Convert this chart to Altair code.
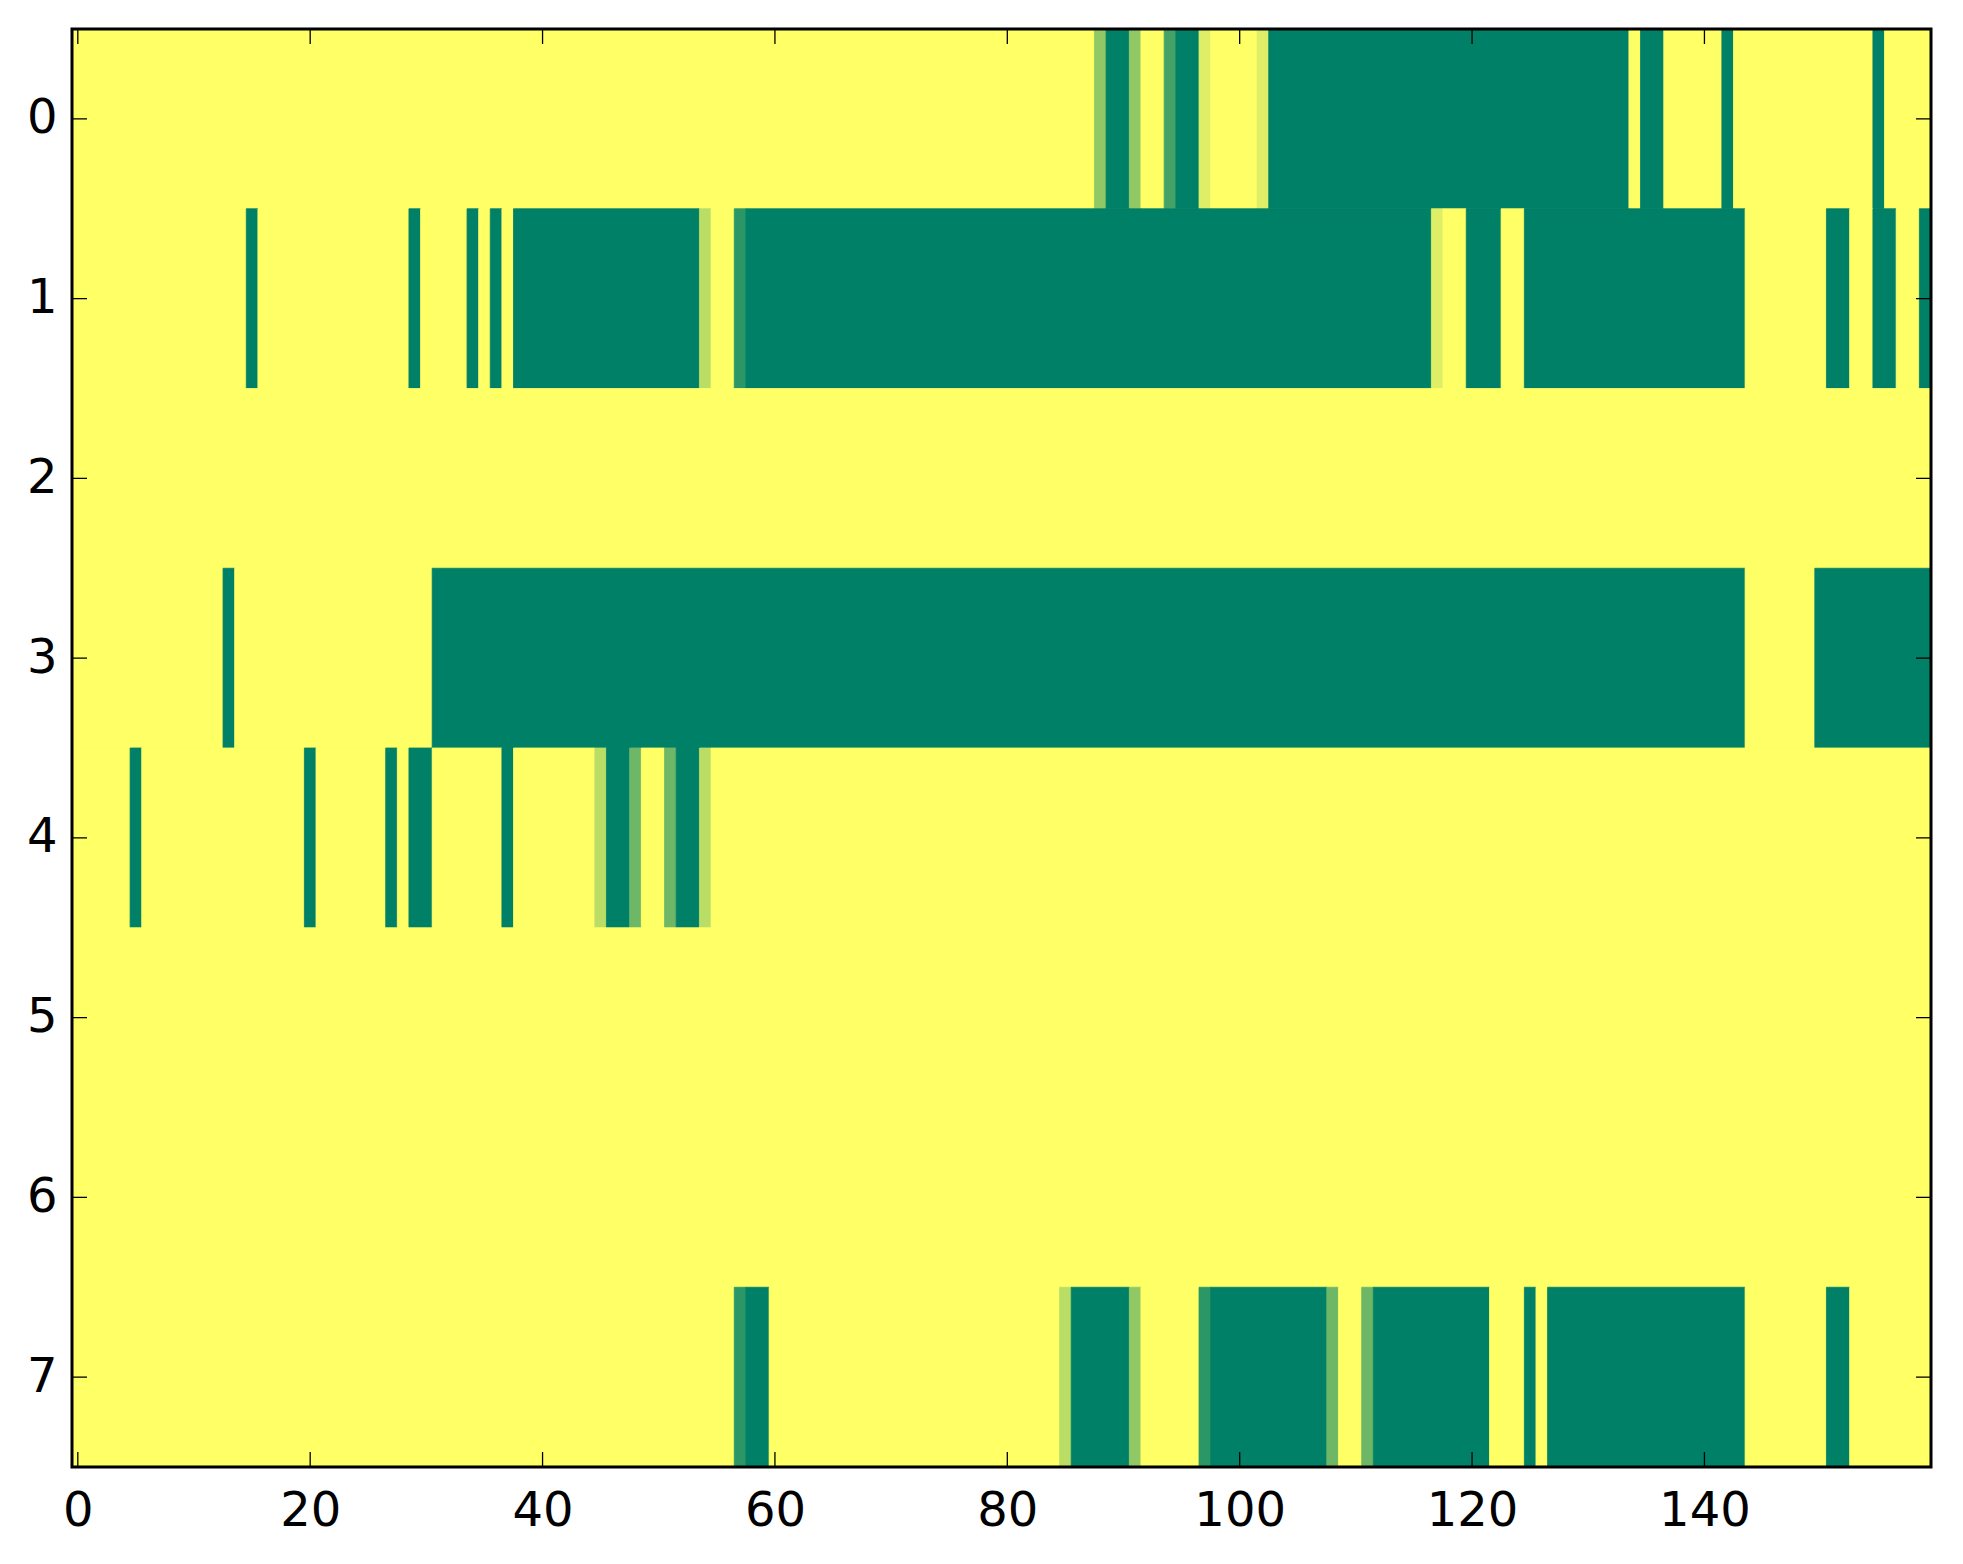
import altair as alt
import pandas as pd

# Each row of the image: runs of (first column, last column, value)
row_0 = [(0, 87, 0), (88, 88, 0.43), (89, 90, 1), (91, 91, 0.43), (92, 93, 0),
         (94, 94, 0.73), (95, 96, 1), (97, 97, 0.13), (98, 101, 0), (102, 102, 0.13),
         (103, 133, 1), (134, 134, 0), (135, 136, 1), (137, 141, 0), (142, 142, 1),
         (143, 154, 0), (155, 155, 1), (156, 159, 0)]
row_1 = [(0, 14, 0), (15, 15, 1), (16, 28, 0), (29, 29, 1), (30, 33, 0), (34, 34, 1),
         (35, 35, 0), (36, 36, 1), (37, 37, 0), (38, 53, 1), (54, 54, 0.27), (55, 56, 0),
         (57, 57, 0.83), (58, 116, 1), (117, 117, 0.13), (118, 119, 0), (120, 122, 1),
         (123, 124, 0), (125, 143, 1), (144, 150, 0), (151, 152, 1), (153, 154, 0),
         (155, 156, 1), (157, 158, 0), (159, 159, 1)]
row_2 = [(0, 159, 0)]
row_3 = [(0, 12, 0), (13, 13, 1), (14, 30, 0), (31, 143, 1), (144, 149, 0), (150, 159, 1)]
row_4 = [(0, 4, 0), (5, 5, 1), (6, 19, 0), (20, 20, 1), (21, 26, 0), (27, 27, 1),
         (28, 28, 0), (29, 30, 1), (31, 36, 0), (37, 37, 1), (38, 44, 0), (45, 45, 0.27),
         (46, 47, 1), (48, 48, 0.57), (49, 50, 0), (51, 51, 0.57), (52, 53, 1),
         (54, 54, 0.27), (55, 159, 0)]
row_5 = [(0, 159, 0)]
row_6 = [(0, 159, 0)]
row_7 = [(0, 56, 0), (57, 57, 0.83), (58, 59, 1), (60, 84, 0), (85, 85, 0.27),
         (86, 90, 1), (91, 91, 0.43), (92, 96, 0), (97, 97, 0.83), (98, 107, 1),
         (108, 108, 0.57), (109, 110, 0), (111, 111, 0.57), (112, 121, 1), (122, 124, 0),
         (125, 125, 1), (126, 126, 0), (127, 143, 1), (144, 150, 0), (151, 152, 1),
         (153, 159, 0)]

rows = [row_0, row_1, row_2, row_3, row_4, row_5, row_6, row_7]
x_ticks = [0, 20, 40, 60, 80, 100, 120, 140]
y_ticks = [0, 1, 2, 3, 4, 5, 6, 7]

records = []
for r, runs in enumerate(rows):
    for a, b, v in runs:
        records.append({"row": r, "start": a, "end": b, "v": v})
df = pd.DataFrame(records)

W, H = 1859, 1438
TL = 15
FONT = "DejaVu Sans"

cscale = alt.Scale(domain=[0, 1], range=["#ffff66", "#008066"], interpolate="rgb")
xscale = alt.Scale(domain=[-0.5, 159.5], nice=False, zero=False)
yscale = alt.Scale(domain=[-0.5, 7.5], nice=False, zero=False, reverse=True)

x_axis = alt.Axis(values=x_ticks, ticks=False, tickSize=0, domain=False, grid=False,
                  title=None, labelFont=FONT, labelFontSize=48, labelColor="black",
                  labelPadding=20, labelFlush=False)
y_axis = alt.Axis(values=y_ticks, ticks=False, tickSize=0, domain=False, grid=False,
                  title=None, labelFont=FONT, labelFontSize=48, labelColor="black",
                  labelPadding=15, labelFlush=False)

heat = alt.Chart(df).transform_calculate(
    x0="datum.start - 0.5", x1="datum.end + 0.5",
    y0="datum.row - 0.5", y1="datum.row + 0.5"
).mark_rect(strokeWidth=0.8).encode(
    x=alt.X("x0:Q", scale=xscale, axis=x_axis),
    x2="x1:Q",
    y=alt.Y("y0:Q", scale=yscale, axis=y_axis),
    y2="y1:Q",
    color=alt.Color("v:Q", scale=cscale, legend=None),
    stroke=alt.Stroke("v:Q", scale=cscale, legend=None),
)

xt = pd.DataFrame({"t": x_ticks})
yt = pd.DataFrame({"t": y_ticks})

tick_style = dict(color="black", strokeWidth=1.3)
bottom = alt.Chart(xt).mark_rule(**tick_style).encode(
    x=alt.X("t:Q", scale=xscale, axis=x_axis), y=alt.value(H), y2=alt.value(H - TL))
top = alt.Chart(xt).mark_rule(**tick_style).encode(
    x=alt.X("t:Q", scale=xscale, axis=x_axis), y=alt.value(0), y2=alt.value(TL))
left = alt.Chart(yt).mark_rule(**tick_style).encode(
    y=alt.Y("t:Q", scale=yscale, axis=y_axis), x=alt.value(0), x2=alt.value(TL))
right = alt.Chart(yt).mark_rule(**tick_style).encode(
    y=alt.Y("t:Q", scale=yscale, axis=y_axis), x=alt.value(W), x2=alt.value(W - TL))

frame = alt.Chart(alt.Data(values=[{}])).mark_rect(
    filled=False, stroke="black", strokeWidth=3
).encode(x=alt.value(0), x2=alt.value(W), y=alt.value(0), y2=alt.value(H))

chart = alt.layer(heat, bottom, top, left, right, frame).properties(
    width=W, height=H,
    autosize=alt.AutoSizeParams(type="none"),
    padding={"left": 64, "top": 21, "right": 20, "bottom": 70},
    background="white",
).configure_view(strokeWidth=0)

chart.save("out.html", embed_options={"renderer": "svg", "actions": False})
